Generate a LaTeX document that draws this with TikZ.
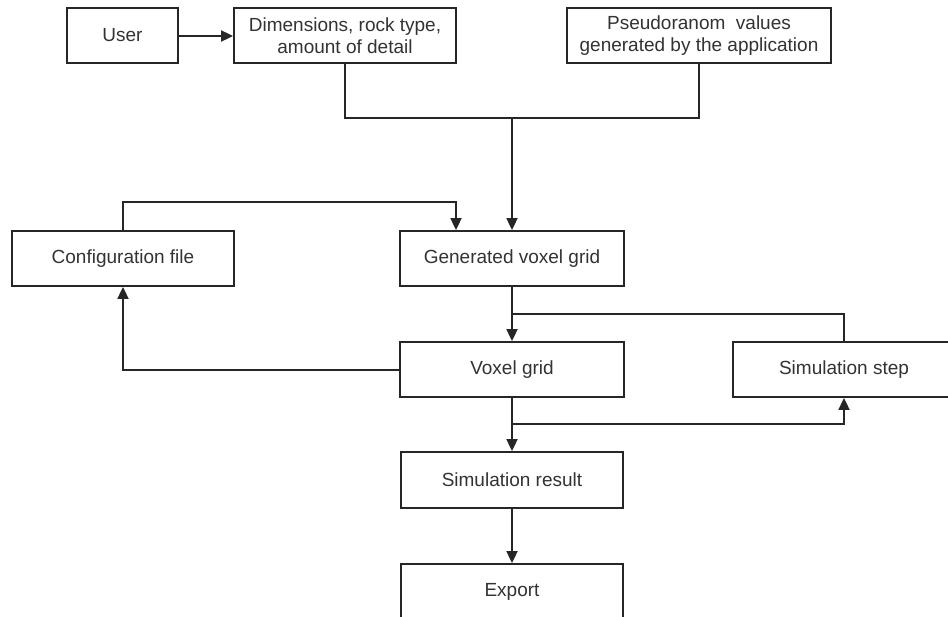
\documentclass[tikz,border=0pt]{standalone}
\usepackage{fontspec}
\setmainfont{Liberation Sans}
\usetikzlibrary{arrows.meta}
\definecolor{txt}{HTML}{333333}
\begin{document}
\begin{tikzpicture}[x=1pt,y=-1pt,
  box/.style={draw=black!85, line width=1.8pt, fill=white, inner sep=0pt, align=center,
    text=txt, font=\fontsize{19}{22}\selectfont, minimum height=55pt},
  conn/.style={draw=black!85, line width=1.8pt},
  arr/.style={conn, -{Triangle[length=12pt,width=11pt]}}]
\useasboundingbox (0,0) rectangle (948,616);
\clip (0,0) rectangle (948,616);
\node[box, minimum width=111pt] (user) at (122.5,35.5) {User};
\node[box, minimum width=222pt] (dim) at (345,35.5) {Dimensions, rock type,\\amount of detail};
\node[box, minimum width=264pt] (pseudo) at (699,35.5) {Pseudoranom\ \ values\\generated by the application};
\node[box, minimum width=222pt] (config) at (123,258.5) {Configuration file};
\node[box, minimum width=224pt] (gen) at (512,258.5) {Generated voxel grid};
\node[box, minimum width=224pt] (voxel) at (512,369.5) {Voxel grid};
\node[box, minimum width=222pt] (simstep) at (844,369.5) {Simulation step};
\node[box, minimum width=222pt, minimum height=56pt] (simres) at (512,480) {Simulation result};
\node[box, minimum width=222pt, minimum height=56pt] (export) at (512,592) {Export};
\coordinate (j1) at (512,118);
\coordinate (j2) at (512,314);
\coordinate (j3) at (512,424);
\draw[arr] ([yshift=-0.5pt]user.east) -- ([yshift=-0.5pt]dim.west);
\draw[conn] (dim.south) |- (j1);
\draw[conn] (pseudo.south) |- (j1);
\draw[arr] (j1) -- (gen.north);
\draw[arr] (config.north) -- ++(0,-28) -| ([xshift=-56pt]gen.north);
\draw[arr] ([yshift=-0.5pt]voxel.west) -| (config.south);
\draw[arr] (gen.south) -- (voxel.north);
\draw[conn] (simstep.north) |- (j2);
\draw[arr] (voxel.south) -- (simres.north);
\draw[arr] (j3) -| (simstep.south);
\draw[arr] (simres.south) -- (export.north);
\end{tikzpicture}
\end{document}
